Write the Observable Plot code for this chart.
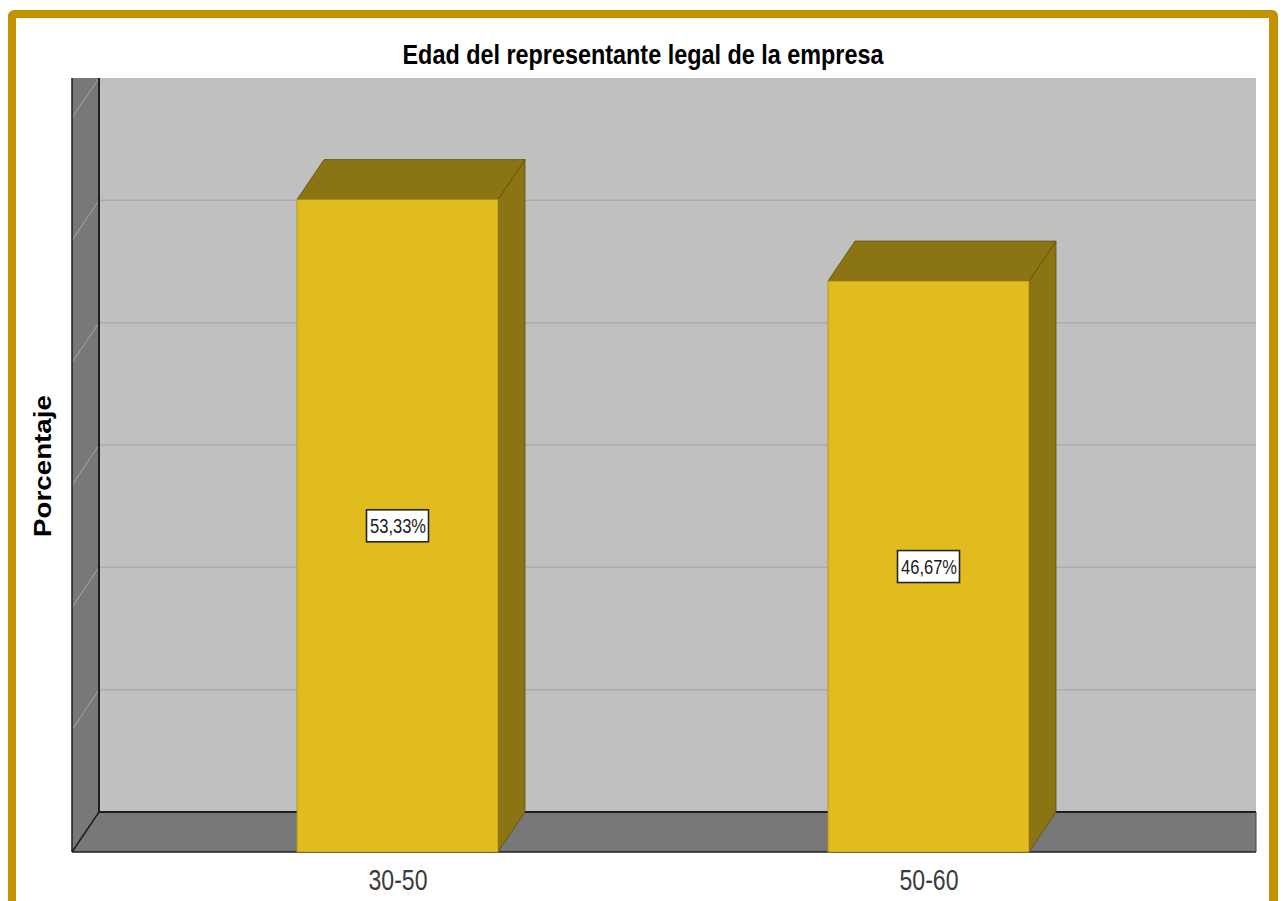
<!DOCTYPE html>
<html>
<head>
<meta charset="utf-8">
<script src="https://cdn.jsdelivr.net/npm/d3@7"></script>
<script src="https://cdn.jsdelivr.net/npm/@observablehq/plot@0.6"></script>
<style>
  html, body { margin: 0; padding: 0; background: #fff; overflow: hidden; width: 1283px; height: 901px; }
  #chart { position: absolute; left: 0; top: 0; }
  #frame { position: absolute; left: 8px; top: 10px; width: 1253px; height: 960px;
           border-style: solid; border-color: #C39200; border-width: 8px 9px 8px 8px;
           border-radius: 6px; pointer-events: none; }
  #title { position: absolute; left: 643px; top: 45px; white-space: nowrap;
           font: bold 23.4px "Liberation Sans", Arial, sans-serif; line-height: 1; color: #000;
           transform-origin: 50% 19.8px; transform: translateX(-50%) scaleY(1.19); }
  #ylabel { position: absolute; left: 44px; top: 466px; white-space: nowrap;
            font: bold 23.5px "Liberation Sans", Arial, sans-serif; line-height: 1; color: #000;
            transform: translate(-50%, -50%) rotate(-90deg) scaleX(1.18); }
</style>
</head>
<body>
<div id="chart"></div>
<div id="title"></div>
<div id="ylabel"></div>
<div id="frame"></div>
<script>
// ---- data ----
const categories = ["30-50", "50-60"];
const percentages = [53.33, 46.67];
const valueLabels = ["53,33%", "46,67%"];
const gridValues = [10, 20, 30, 40, 50, 60];
const yDomain = [0, 60];
const titleText = "Edad del representante legal de la empresa";
const yLabelText = "Porcentaje";

const data = categories.map((c, i) => ({cat: c, value: percentages[i], label: valueLabels[i]}));

document.getElementById("title").textContent = titleText;
document.getElementById("ylabel").textContent = yLabelText;

// ---- style ----
const DX = 27, DY = 40; // 3D depth offset in pixels
const C = {
  back: "#C0C0C0", wall: "#787878", front: "#E1BC1F", shade: "#8B7414",
  edge: "#1e1e1e", grid: "#ababab", diag: "#a6a6a6", shadeEdge: "#5e4e0c"
};
const bw = s => typeof s.bandwidth === "function" ? s.bandwidth() : (s.bandwidth || 0);

function scene(index, scales, values, dims) {
  const {x, y} = scales;
  const left = dims.marginLeft, right = dims.width - dims.marginRight;
  const y0 = y(0), yTop = y(yDomain[1]);
  const g = d3.create("svg:g");
  const poly = (pts, fill, stroke, sw) => g.append("polygon")
    .attr("points", pts.map(p => p.join(",")).join(" "))
    .attr("fill", fill).attr("stroke", stroke || "none").attr("stroke-width", sw || 0)
    .attr("stroke-linejoin", "round");
  const line = (x1, y1, x2, y2, stroke, sw) => g.append("line")
    .attr("x1", x1).attr("y1", y1).attr("x2", x2).attr("y2", y2)
    .attr("stroke", stroke).attr("stroke-width", sw);
  // back wall
  g.append("rect").attr("x", left + DX).attr("y", yTop - DY)
    .attr("width", right - left - DX).attr("height", y0 - yTop).attr("fill", C.back);
  for (const v of gridValues) if (v < yDomain[1]) line(left + DX, y(v) - DY, right, y(v) - DY, C.grid, 1.5);
  // left wall
  poly([[left, y0], [left, yTop - DY], [left + DX, yTop - DY], [left + DX, y0 - DY]], C.wall);
  for (const v of gridValues) line(left + DX, y(v) - DY, left, y(v), C.diag, 1);
  // floor
  poly([[left, y0], [right, y0], [right, y0 - DY], [left + DX, y0 - DY]], C.wall);
  // edges
  line(left, yTop - DY, left, y0, C.edge, 1.5);
  line(left + DX, yTop - DY, left + DX, y0 - DY, C.edge, 2);
  line(left + DX, y0 - DY, right, y0 - DY, C.edge, 2);
  line(left, y0, right, y0, C.edge, 1.5);
  line(left, y0, left + DX, y0 - DY, C.edge, 1.5);
  line(right, y0 - DY, right, y0, "#444", 1);
  // bar sides and tops
  for (const d of data) {
    const x0 = x(d.cat), x1 = x0 + bw(x), yv = y(d.value);
    poly([[x1, yv], [x1 + DX, yv - DY], [x1 + DX, y0 - DY], [x1, y0]], C.shade, C.shadeEdge, 0.8);
    poly([[x0, yv], [x0 + DX, yv - DY], [x1 + DX, yv - DY], [x1, yv]], C.shade, C.shadeEdge, 0.8);
  }
  return g.node();
}

function labelBoxes(index, scales) {
  const g = d3.create("svg:g");
  for (const d of data) {
    const cx = scales.x(d.cat) + bw(scales.x) / 2, cy = scales.y(d.value / 2);
    g.append("rect").attr("x", cx - 31).attr("y", cy - 16).attr("width", 62).attr("height", 32)
      .attr("fill", "#fff").attr("stroke", "#262626").attr("stroke-width", 1.6);
  }
  return g.node();
}

const chart = Plot.plot({
  width: 1283,
  height: 901,
  marginLeft: 72,
  marginRight: 27,
  marginTop: 118,
  marginBottom: 49,
  style: {fontFamily: "'Liberation Sans', Arial, sans-serif", background: "transparent", overflow: "visible"},
  x: {type: "band", domain: categories, paddingInner: 0.621, paddingOuter: 0.424, align: 0.497, axis: null},
  y: {domain: yDomain, axis: null},
  marks: [
    scene,
    Plot.barY(data, {x: "cat", y: "value", fill: C.front, stroke: "#b08f10", strokeWidth: 0.8}),
    labelBoxes,
    Plot.text(data, {x: "cat", y: d => d.value / 2, text: "label", fontSize: 14.2, fill: "#1a1a1a",
      lineAnchor: "middle", ariaLabel: "barlabels"}),
    Plot.text(categories, {x: d => d, text: d => d, frameAnchor: "bottom", lineAnchor: "top", dy: 19,
      fontSize: 23, fill: "#3a3a3a", ariaLabel: "xlabels"})
  ]
});

document.getElementById("chart").appendChild(chart);

// vertically stretch text glyphs about their own centre (the reference uses a tall, narrow face)
function stretch(labels, k, size, len) {
  const texts = Array.from(chart.querySelectorAll("text")).filter(t => labels.includes(t.textContent));
  for (const t of texts) {
    t.setAttribute("font-size", size);
    t.style.fontSize = size + "px";
    t.setAttribute("textLength", len);
    t.setAttribute("lengthAdjust", "spacingAndGlyphs");
    const b = t.getBBox();
    const cx = b.x + b.width / 2, cy = b.y + b.height / 2;
    const tr = t.getAttribute("transform") || "";
    t.setAttribute("transform", `${tr} translate(${cx},${cy}) scale(1,${k}) translate(${-cx},${-cy})`);
  }
}
stretch(valueLabels, 1.45, 14.2, 56);
stretch(categories, 1.27, 23, 59);
</script>
</body>
</html>
